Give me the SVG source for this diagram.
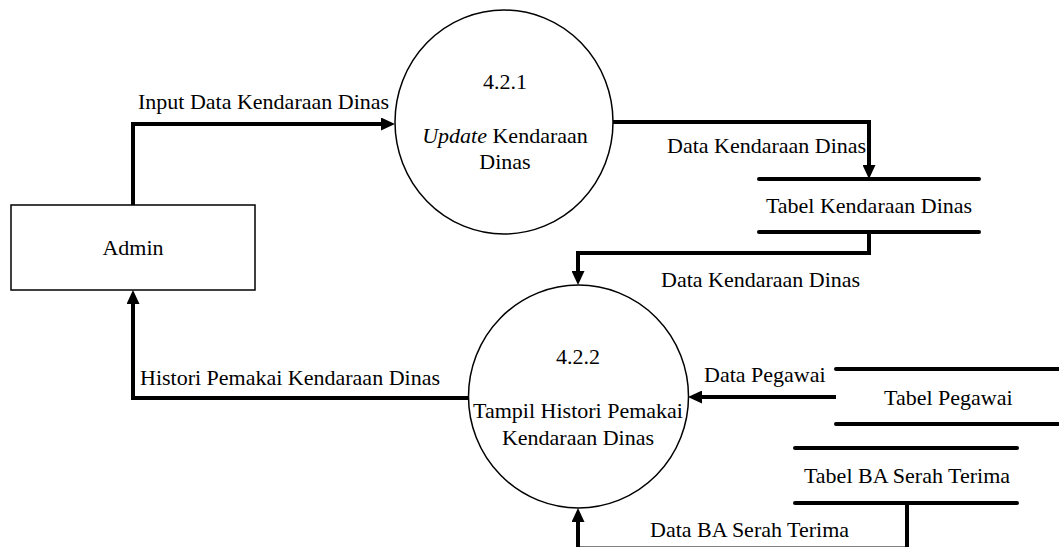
<svg xmlns="http://www.w3.org/2000/svg" width="1059" height="547" viewBox="0 0 1059 547">
  <style>
    text { font-family: "Liberation Serif", "Times New Roman", serif; font-size: 22px; fill: #000; }
    .mid { text-anchor: middle; }
    .proc { fill: #fff; stroke: #000; stroke-width: 1.5; }
    .ent { fill: #fff; stroke: #000; stroke-width: 1.5; }
    .store { stroke: #000; stroke-width: 4; stroke-linecap: round; fill: none; }
    .flow { fill: none; stroke: #000; stroke-width: 4; stroke-linejoin: miter; marker-end: url(#arrow); }
    .flow-plain { fill: none; stroke: #000; stroke-width: 4; stroke-linejoin: miter; }
  </style>
  <defs>
    <marker id="arrow" markerUnits="userSpaceOnUse" markerWidth="14" markerHeight="13" refX="6" refY="6.5" orient="auto">
      <path d="M0,0 L14,6.5 L0,13 z" fill="#000"/>
    </marker>
  </defs>

  <rect width="1059" height="547" fill="#fff"/>

  <!-- data flows -->
  <g id="connectors">
    <!-- Admin -> 4.2.1 -->
    <path class="flow" d="M133,206 L133,124 L387,124"/>
    <text x="138" y="109">Input Data Kendaraan Dinas</text>

    <!-- 4.2.1 -> Tabel Kendaraan Dinas -->
    <path class="flow" d="M613,122 L869,122 L869,171"/>
    <text x="667" y="153">Data Kendaraan Dinas</text>

    <!-- Tabel Kendaraan Dinas -> 4.2.2 -->
    <path class="flow" d="M869,232 L869,253 L578,253 L578,277"/>
    <text x="661" y="287">Data Kendaraan Dinas</text>

    <!-- 4.2.2 -> Admin -->
    <path class="flow" d="M469,398 L133,398 L133,298"/>
    <text x="140" y="385">Histori Pemakai Kendaraan Dinas</text>

    <!-- Tabel Pegawai -> 4.2.2 -->
    <path class="flow" d="M836,397 L696,397"/>
    <text x="704" y="382">Data Pegawai</text>

    <!-- Tabel BA Serah Terima -> 4.2.2 -->
    <path class="flow" d="M907,503 L907,548.5 L578,548.5 L578,516"/>
    <text x="650" y="537">Data BA Serah Terima</text>
  </g>

  <!-- external entity -->
  <g id="admin">
    <rect class="ent" x="11" y="205" width="244" height="85"/>
    <text class="mid" x="133" y="255">Admin</text>
  </g>

  <!-- process 4.2.1 -->
  <g id="proc-421">
    <ellipse class="proc" cx="504" cy="122" rx="109" ry="112"/>
    <text class="mid" x="505" y="89">4.2.1</text>
    <text class="mid" x="505" y="143"><tspan font-style="italic">Update</tspan> Kendaraan</text>
    <text class="mid" x="505" y="169">Dinas</text>
  </g>

  <!-- process 4.2.2 -->
  <g id="proc-422">
    <ellipse class="proc" cx="578.5" cy="396.5" rx="110" ry="111.5"/>
    <text class="mid" x="578" y="364">4.2.2</text>
    <text class="mid" x="578" y="418">Tampil Histori Pemakai</text>
    <text class="mid" x="578" y="445">Kendaraan Dinas</text>
  </g>

  <!-- data stores -->
  <g id="store-kendaraan">
    <line class="store" x1="759" y1="179" x2="979" y2="179"/>
    <line class="store" x1="759" y1="232" x2="979" y2="232"/>
    <text class="mid" x="869" y="213">Tabel Kendaraan Dinas</text>
  </g>

  <g id="store-pegawai">
    <line class="store" x1="836" y1="369" x2="1062" y2="369"/>
    <line class="store" x1="836" y1="424" x2="1062" y2="424"/>
    <text x="884" y="405">Tabel Pegawai</text>
  </g>

  <g id="store-ba">
    <line class="store" x1="795" y1="448" x2="1017" y2="448"/>
    <line class="store" x1="795" y1="503" x2="1017" y2="503"/>
    <text class="mid" x="907" y="483">Tabel BA Serah Terima</text>
  </g>
</svg>
